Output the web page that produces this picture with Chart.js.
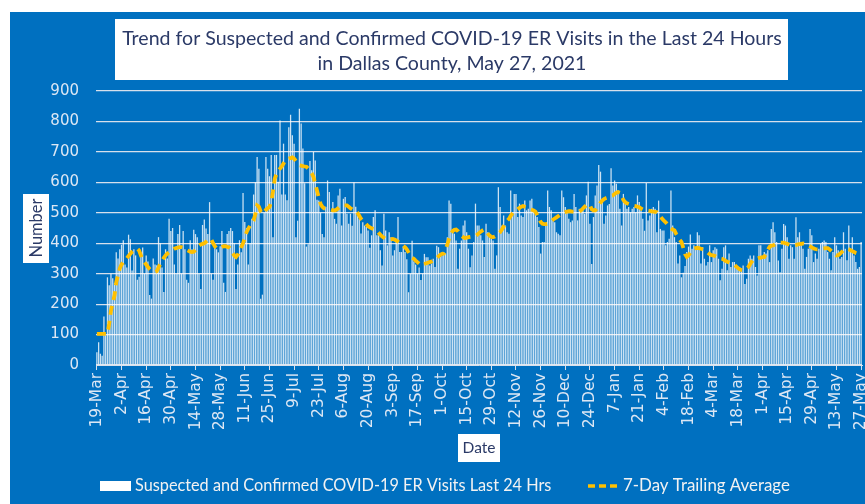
<!DOCTYPE html>
<html>
<head>
<meta charset="utf-8">
<script src="https://cdn.jsdelivr.net/npm/chart.js@4.4.1/dist/chart.umd.min.js"></script>
<style>
  html, body { margin: 0; padding: 0; background: #ffffff; }
  #wrap { width: 865px; height: 504px; position: relative; }
</style>
</head>
<body>
<div id="wrap"><canvas id="c" width="865" height="504"></canvas></div>
<script>
// ---------- DATA ----------
const startDate = [2020, 2, 19]; // 19-Mar-2020 (first day)
const tickLabels = ['19-Mar','2-Apr','16-Apr','30-Apr','14-May','28-May','11-Jun','25-Jun','9-Jul','23-Jul',
  '6-Aug','20-Aug','3-Sep','17-Sep','1-Oct','15-Oct','29-Oct','12-Nov','26-Nov','10-Dec','24-Dec',
  '7-Jan','21-Jan','4-Feb','18-Feb','4-Mar','18-Mar','1-Apr','15-Apr','29-Apr','13-May','27-May'];
const tickEvery = 14;

// Daily suspected and confirmed COVID-19 ER visits
const dailyVisits = [
  42,75,37,30,159,100,288,
  262,300,285,270,370,350,380,
  395,410,330,320,428,413,310,
  380,360,280,290,370,386,300,
  360,340,230,218,350,330,328,
  420,400,320,240,380,350,480,
  440,450,330,300,430,460,300,
  440,380,280,270,410,380,444,
  430,420,300,250,460,478,448,
  430,535,300,280,400,380,370,
  390,440,270,240,430,440,450,
  440,400,250,330,410,370,565,
  470,450,330,400,480,560,600,
  683,645,218,231,500,683,645,
  620,690,420,690,690,602,803,
  560,727,560,541,781,822,755,
  727,420,474,842,793,711,597,
  389,397,670,640,700,672,543,
  540,500,430,420,520,606,568,
  502,535,480,464,557,579,458,
  546,552,497,464,497,457,600,
  520,491,480,432,469,458,453,
  442,385,426,486,508,426,426,
  377,327,497,442,393,436,420,
  360,377,404,486,371,371,390,
  371,347,239,300,408,340,330,
  300,320,279,300,365,354,354,
  327,333,349,322,392,387,355,
  360,371,366,420,540,530,436,
  431,409,316,382,409,458,475,
  436,382,321,360,404,530,458,
  458,426,409,355,464,436,420,
  415,409,316,360,584,519,458,
  491,458,436,431,573,502,562,
  562,486,530,491,486,540,508,
  513,540,546,502,497,486,453,
  366,404,404,464,573,519,508,
  475,469,436,431,426,573,551,
  519,502,480,469,475,562,519,
  475,513,502,508,497,557,602,
  464,332,486,557,590,657,635,
  540,464,491,524,529,646,590,
  606,595,573,513,458,562,540,
  513,519,502,513,519,502,557,
  535,508,480,441,598,475,491,
  513,519,513,436,540,447,442,
  442,393,404,415,573,458,420,
  404,333,360,288,303,325,371,
  389,429,382,393,382,436,426,
  333,387,349,327,338,393,338,
  377,387,382,349,278,316,387,
  393,311,366,322,338,338,327,
  316,322,316,327,266,283,349,
  360,349,360,322,294,393,393,
  349,371,366,377,338,447,469,
  436,404,343,305,382,463,458,
  420,349,393,387,349,485,420,
  436,393,382,316,355,382,447,
  426,338,366,349,382,398,404,
  409,404,371,349,311,371,420,
  393,377,349,355,436,382,344,
  458,382,420,360,338,316,322,
  404
];

// 7-day trailing average
const trailingAvg = [
  102,102,102,102,102,102,102,
  136,179,205,228,272,295,317,
  330,338,345,350,358,365,372,
  376,380,382,376,360,345,338,
  330,322,315,310,308,306,308,
  320,333,343,352,360,366,370,
  374,378,382,384,386,387,387,
  385,382,378,375,372,371,372,
  378,385,392,396,398,400,405,
  410,415,412,400,390,384,382,
  385,388,390,390,388,387,380,
  370,360,355,362,375,387,400,
  418,436,448,458,466,475,495,
  524,520,505,497,500,510,515,
  519,535,570,612,628,638,645,
  652,662,673,676,678,680,682,
  678,670,662,656,655,653,652,
  651,645,638,630,618,595,573,
  550,530,520,515,513,512,512,
  510,508,508,510,515,520,522,
  524,524,524,520,515,511,510,
  508,500,490,480,474,469,462,
  456,452,449,447,445,440,434,
  428,422,418,414,412,412,413,
  414,412,409,405,400,395,391,
  387,380,370,360,352,349,343,
  338,333,327,330,332,334,336,
  338,340,343,347,352,357,362,
  365,366,380,395,415,430,440,
  444,445,440,432,425,420,417,
  418,420,421,422,423,424,428,
  433,438,442,445,440,432,425,
  421,420,422,426,432,436,445,
  455,465,474,480,490,498,504,
  508,512,516,520,522,520,518,
  515,512,510,508,504,494,482,
  470,464,463,463,464,468,472,
  477,481,485,489,493,497,500,
  502,504,505,505,504,504,503,
  504,504,508,514,520,525,529,
  524,512,508,508,515,525,533,
  540,545,548,550,553,556,557,
  562,566,568,566,555,542,535,
  531,529,527,525,523,522,520,
  518,514,511,509,508,507,506,
  505,504,503,502,495,488,480,
  474,469,462,455,449,445,442,
  430,420,411,404,385,365,355,
  360,368,375,382,384,385,384,
  382,380,378,374,369,364,361,
  360,358,355,352,350,349,346,
  342,339,337,335,333,329,324,
  319,314,312,311,313,317,322,
  332,340,347,349,350,352,353,
  354,355,365,378,388,392,393,
  396,399,401,402,402,402,400,
  398,396,394,393,393,394,396,
  397,398,399,398,398,394,390,
  386,383,381,380,380,381,382,
  383,384,384,380,375,369,364,
  360,361,365,371,377,381,382,
  380,377,374,371,368,366,366,
  367
];

const seriesNames = ['Suspected and Confirmed COVID-19 ER Visits Last 24 Hrs', '7-Day Trailing Average'];
const titleLines = ['Trend for Suspected and Confirmed COVID-19 ER Visits in the Last 24 Hours', 'in Dallas County, May 27, 2021'];
const yAxisTitle = 'Number';
const xAxisTitle = 'Date';

// category labels (one per day)
const monthNames = ['Jan','Feb','Mar','Apr','May','Jun','Jul','Aug','Sep','Oct','Nov','Dec'];
const dayLabels = dailyVisits.map((_, i) => {
  const d = new Date(startDate[0], startDate[1], startDate[2] + i);
  return d.getDate() + '-' + monthNames[d.getMonth()];
});

// ---------- STYLE ----------
const BLUE = '#0070C0';
const NAVY = '#2b3a67';
const TICK_COLOR = '#dce7f4';
const GRID_COLOR = 'rgba(225,230,238,0.95)';
const GOLD = '#FFC000';

function fitFont(ctx, text, family, targetWidth, weight) {
  ctx.font = (weight || '') + ' 20px ' + family;
  const w = ctx.measureText(text).width;
  return 20 * targetWidth / w;
}

const decor = {
  id: 'decor',
  beforeDraw(chart) {
    const ctx = chart.ctx;
    ctx.save();
    ctx.fillStyle = '#ffffff';
    ctx.fillRect(0, 0, chart.width, chart.height);
    ctx.fillStyle = BLUE;
    ctx.fillRect(10, 12, chart.width - 10, chart.height - 12);
    ctx.restore();
  },
  afterDraw(chart) {
    const ctx = chart.ctx;
    ctx.save();
    // Title box
    ctx.fillStyle = '#ffffff';
    ctx.fillRect(115, 19, 673, 61);
    const ts = fitFont(ctx, titleLines[0], 'Lato', 660);
    ctx.font = ts + 'px Lato';
    ctx.fillStyle = NAVY;
    ctx.textAlign = 'center';
    ctx.textBaseline = 'middle';
    ctx.fillText(titleLines[0], 452, 39);
    ctx.fillText(titleLines[1], 452, 64);

    // Y axis title box
    ctx.fillStyle = '#ffffff';
    ctx.fillRect(23, 194, 26, 69);
    ctx.save();
    ctx.translate(37, 228);
    ctx.rotate(-Math.PI / 2);
    const ns = fitFont(ctx, yAxisTitle, 'Lato', 59);
    ctx.font = ns + 'px Lato';
    ctx.fillStyle = NAVY;
    ctx.fillText(yAxisTitle, 0, 0);
    ctx.restore();

    // X axis title box
    ctx.fillStyle = '#ffffff';
    ctx.fillRect(458, 434, 42, 28);
    const ds = fitFont(ctx, xAxisTitle, 'Lato', 33);
    ctx.font = ds + 'px Lato';
    ctx.fillStyle = NAVY;
    ctx.fillText(xAxisTitle, 479, 448);

    // Legend
    ctx.fillStyle = '#ffffff';
    ctx.fillRect(100, 481, 31, 10);
    ctx.textAlign = 'left';
    const ls = fitFont(ctx, seriesNames[0], 'Lato', 417);
    ctx.font = ls + 'px Lato';
    ctx.fillStyle = '#f2f2f2';
    ctx.fillText(seriesNames[0], 135, 486);
    ctx.strokeStyle = GOLD;
    ctx.lineWidth = 3.5;
    ctx.setLineDash([7, 4]);
    ctx.beginPath();
    ctx.moveTo(588, 486);
    ctx.lineTo(621, 486);
    ctx.stroke();
    ctx.setLineDash([]);
    const ls2 = fitFont(ctx, seriesNames[1], 'Lato', 167);
    ctx.font = ls2 + 'px Lato';
    ctx.fillText(seriesNames[1], 623, 486);
    ctx.restore();
  }
};

new Chart(document.getElementById('c'), {
  type: 'bar',
  data: {
    labels: dayLabels,
    datasets: [
      {
        type: 'line',
        label: seriesNames[1],
        data: trailingAvg,
        borderColor: GOLD,
        borderWidth: 3.8,
        borderDash: [9, 6],
        pointRadius: 0,
        tension: 0,
        fill: false,
        order: 1
      },
      {
        type: 'bar',
        label: seriesNames[0],
        data: dailyVisits,
        backgroundColor: 'rgba(255,255,255,0.8)',
        borderWidth: 0,
        barPercentage: 0.72,
        categoryPercentage: 1.0,
        order: 2
      }
    ]
  },
  options: {
    responsive: false,
    devicePixelRatio: 1,
    animation: false,
    layout: { padding: { left: 0, top: 91, right: 3, bottom: 69 } },
    plugins: {
      legend: { display: false },
      title: { display: false },
      tooltip: { enabled: false }
    },
    scales: {
      x: {
        type: 'category',
        offset: true,
        afterBuildTicks(scale) {
          scale.ticks = scale.ticks.filter(t => t.value % tickEvery === 0);
        },
        afterFit(scale) {
          scale.height = 70;
          scale.paddingLeft = 0;
          scale.paddingRight = 0;
        },
        grid: {
          display: true,
          drawOnChartArea: false,
          drawTicks: true,
          tickLength: 5,
          offset: false,
          color: GRID_COLOR
        },
        border: { display: true, color: GRID_COLOR, width: 1 },
        ticks: {
          autoSkip: false,
          minRotation: 90,
          maxRotation: 90,
          padding: 3,
          color: TICK_COLOR,
          font: { family: 'DejaVu Sans', size: 15.5 },
          callback(value) { return tickLabels[Math.round(value / tickEvery)]; }
        }
      },
      y: {
        min: 0,
        max: 900,
        afterFit(scale) {
          scale.width = 96;
          scale.paddingTop = 0;
          scale.paddingBottom = 0;
        },
        grid: {
          color: GRID_COLOR,
          lineWidth: 1.2,
          drawTicks: false
        },
        border: { display: false },
        ticks: {
          stepSize: 100,
          padding: 17,
          color: TICK_COLOR,
          font: { family: 'DejaVu Sans', size: 15 }
        }
      }
    }
  },
  plugins: [decor]
});
</script>
</body>
</html>
